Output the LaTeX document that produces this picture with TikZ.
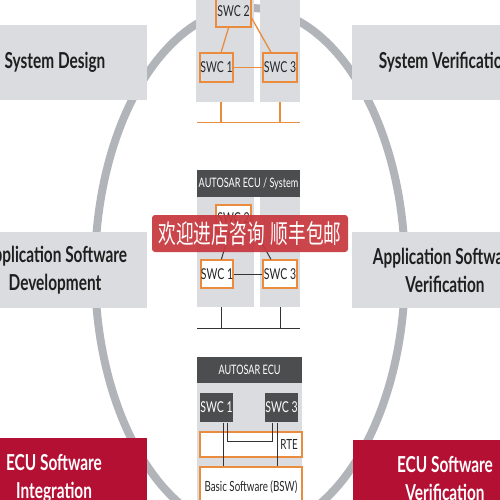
\documentclass[tikz,border=0pt]{standalone}
\usepackage{fontspec}
\setmainfont{Lato}[FakeStretch=0.7]
\newfontfamily\cjk{Noto Sans CJK SC}[FakeStretch=0.68]
\usetikzlibrary{shapes}

\definecolor{ringgrey}{RGB}{177,181,185}
\definecolor{panelgrey}{RGB}{218,220,223}
\definecolor{swcorange}{RGB}{233,140,62}
\definecolor{darkbox}{RGB}{75,77,79}
\definecolor{ecured}{RGB}{180,16,52}
\definecolor{bannerred}{RGB}{198,56,62}

\begin{document}
\begin{tikzpicture}[x=1pt, y=-1pt,
  stage/.style={fill=panelgrey, text=black!88, inner sep=0, align=center,
    font=\fontsize{22}{28}\selectfont\bfseries},
  ecu/.style={stage, fill=ecured, text=white},
  panel/.style={fill=panelgrey, inner sep=0},
  swc/.style={draw=swcorange, line width=1.3pt, fill=panelgrey, inner sep=0,
    text=black!85, font=\fontsize{15}{15}\selectfont},
  swcw/.style={swc, fill=white},
  swcd/.style={swc, draw=none, fill=darkbox, text=white},
  head/.style={fill=darkbox, text=white, inner sep=0,
    font=\fontsize{13}{13}\selectfont},
  layer/.style={draw=swcorange, line width=1.3pt, fill=white, inner sep=0,
    text=black!85, font=\fontsize{14}{14}\selectfont},
  link/.style={draw=swcorange, line width=1.3pt},
  wire/.style={draw=black!80, line width=1pt},
  banner/.style={fill=bannerred, fill opacity=0.93, text opacity=1, text=white,
    rounded corners=3pt, inner sep=0, font=\fontsize{26}{26}\selectfont\cjk}
]
\useasboundingbox (0,0) rectangle (500,500);
\clip (0,0) rectangle (500,500);
\fill[white] (0,0) rectangle (500,500);

% V-cycle ring
\draw[ringgrey, line width=8pt] (250,270) ellipse [x radius=155, y radius=262];

% stages
\node (sysdes) at (55,62.5) [stage, minimum width=184, minimum height=75] {System Design};
\node (sysver) at (445,62.5) [stage, minimum width=186, minimum height=75] {System Verification};
\node (appdev) at (55,270) [stage, minimum width=184, minimum height=76] {Application Software\\Development};
\node (appver) at (445,270) [stage, minimum width=186, minimum height=76] {Application Software\\Verification};
\node (ecuint) at (54,478) [ecu, minimum width=186, minimum height=80] {ECU Software\\Integration};
\node (ecuver) at (445,478) [ecu, minimum width=184, minimum height=76] {ECU Software\\Verification};

% system level
\node (pl1) at (225,46) [panel, minimum width=58, minimum height=112] {};
\node (pr1) at (280,46) [panel, minimum width=40, minimum height=112] {};
\node (s2a) at (233.5,11.5) [swc, minimum width=35, minimum height=31] {SWC 2};
\node (s1a) at (216.5,67.5) [swc, minimum width=33, minimum height=29] {SWC 1};
\node (s3a) at (280,67.5) [swc, minimum width=34, minimum height=29] {SWC 3};
\draw[link] (s2a) -- (s1a);
\draw[link] (s2a.-20) -- ([xshift=-9pt]s3a.north);
\draw[link] (s1a) -- (s3a);
\coordinate (busa) at (197,122.5);
\coordinate (busb) at (300,122.5);
\draw[link] (busa) -- (busb);
\draw[link] ([xshift=-4pt]pl1.south) -- ([xshift=-4pt]pl1.south |- busa);
\draw[link] (pr1.south) -- (pr1.south |- busa);

% ECU / system level
\node (hd2) at (248.5,183.5) [head, minimum width=103, minimum height=27] {AUTOSAR ECU / System};
\node (pl2) at (225.5,252) [panel, minimum width=57, minimum height=110] {};
\node (pr2) at (280,252) [panel, minimum width=40, minimum height=110] {};
\node (s2b) at (233.5,218.5) [swcw, minimum width=35, minimum height=27] {SWC 2};
\node (s1b) at (217,274) [swcw, minimum width=32, minimum height=28] {SWC 1};
\node (s3b) at (280,274) [swcw, minimum width=34, minimum height=28] {SWC 3};
\draw[wire] (s2b) -- (s1b);
\draw[wire] (s2b.-20) -- ([xshift=-9pt]s3b.north);
\draw[wire] (s1b) -- (s3b);
\coordinate (busc) at (197,328);
\coordinate (busd) at (300,328);
\draw[wire] (busc) -- (busd);
\draw[wire] ([xshift=-4.5pt]pl2.south) -- ([xshift=-4.5pt]pl2.south |- busc);
\draw[wire] (pr2.south) -- (pr2.south |- busc);

% ECU level
\node (pl3) at (249.5,435) [panel, minimum width=105, minimum height=156] {};
\node (hd3) at (249.5,370) [head, minimum width=105, minimum height=26] {AUTOSAR ECU};
\node (s1c) at (216.5,407.5) [swcd, minimum width=33, minimum height=29] {SWC 1};
\node (s3c) at (281.5,407.5) [swcd, minimum width=33, minimum height=29] {SWC 3};
\node (rte) at (251,444.5) [layer, minimum width=102, minimum height=25] {};
\node (rtetxt) at (298,444.5) [anchor=east, inner sep=0, text=black!85, font=\fontsize{14}{14}\selectfont] {RTE};
\node (bsw) at (251,487) [layer, minimum width=102, minimum height=40] {Basic Software (BSW)};
\coordinate (rtejoin) at (272,441);
\draw[wire] ([xshift=6.5pt]s1c.south) -- ([xshift=6.5pt]s1c.south |- bsw.north);
\draw[wire] ([xshift=10.5pt]s1c.south) |- (rtejoin) -- (rtejoin |- s3c.south);
\draw[wire] ([xshift=-4.5pt]s3c.south) -- ([xshift=-4.5pt]s3c.south |- bsw.north);

% overlay
\node (promo) at (250,233.5) [banner, minimum width=196, minimum height=37] {欢迎进店咨询\hspace{6pt}顺丰包邮};
\end{tikzpicture}
\end{document}
